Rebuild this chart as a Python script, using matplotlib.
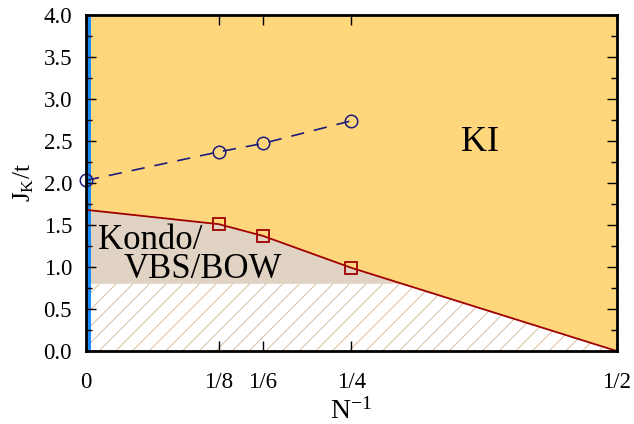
import numpy as np
import matplotlib.pyplot as plt
from matplotlib.ticker import MultipleLocator

plt.rcParams['font.family'] = 'Liberation Serif'
plt.rcParams['mathtext.fontset'] = 'custom'
plt.rcParams['mathtext.rm'] = 'Liberation Serif'
plt.rcParams['mathtext.it'] = 'Liberation Serif:italic'
plt.rcParams['hatch.linewidth'] = 0.6

# KI transition (circles, dashed)
ki_x = [0, 1/8, 1/6, 1/4]
ki_y = [2.03, 2.37, 2.47, 2.74]

# Kondo/VBS boundary (squares)
sq_x = [1/8, 1/6, 1/4]
sq_y = [1.51, 1.37, 0.99]

# full boundary line
bd_x = [0, 1/8, 1/6, 1/4, 1/2]
bd_y = [1.68, 1.51, 1.37, 0.99, 0.0]

hatch_top = 0.8
xticks = [0, 1/8, 1/6, 1/4, 1/2]
xticklabels = ['0', '1/8', '1/6', '1/4', '1/2']

fig = plt.figure(figsize=(6.34, 4.24), dpi=100)
ax = fig.add_axes([0.1356, 0.172, 0.8374, 0.793])

xs = np.linspace(0, 0.5, 1001)
ys = np.interp(xs, bd_x, bd_y)

ax.fill_between(xs, ys, 4.0, color='#fed67c', lw=0, zorder=0)
ax.fill_between(xs, hatch_top, ys, where=ys > hatch_top, color='#e0d3c3', lw=0, zorder=0)
ax.fill_between(xs, 0, np.minimum(ys, hatch_top), facecolor='white', edgecolor='#d4b290',
                hatch='//', lw=0, zorder=0)
ax.axvspan(0, 0.0048, color='#1a8cff', lw=0, zorder=1)

ax.plot(bd_x, bd_y, color='#a00000', lw=1.3, zorder=2)
ax.plot(sq_x, sq_y, ls='none', marker='s', ms=8, mfc='none', mec='#a00000', mew=1.3, zorder=3)
ax.plot(ki_x, ki_y, color='#1c1c7c', lw=1.2, ls=(0, (8, 6)), marker='o', ms=9,
        mfc='none', mec='#1c1c7c', mew=1.1, zorder=3, clip_on=False)

ax.text(0.3536, 2.48, 'KI', fontsize=26, ha='left', va='center')
ax.text(0.011, 1.32, 'Kondo/', fontsize=25, ha='left', va='center')
ax.text(0.035, 0.97, 'VBS/BOW', fontsize=25, ha='left', va='center')

ax.set_xlim(0, 0.5)
ax.set_ylim(0, 4.0)
ax.set_xticks(xticks)
ax.set_xticklabels(xticklabels)
ax.yaxis.set_major_locator(MultipleLocator(0.5))
ax.yaxis.set_minor_locator(MultipleLocator(0.25))
ax.yaxis.set_major_formatter(plt.FormatStrFormatter('%.1f'))
ax.tick_params(which='both', direction='in', top=True, right=True, labelsize=16.5)
ax.tick_params(which='major', length=7, width=1)
ax.tick_params(which='minor', length=4, width=1)
ax.tick_params(axis='x', pad=15)
ax.tick_params(axis='y', pad=10)
for s in ax.spines.values():
    s.set_linewidth(2)
    s.set_zorder(5)

ax.set_xlabel('N$^{-1}$', fontsize=20)
ax.set_ylabel('J$_\\mathrm{K}$/t', fontsize=18)
ax.xaxis.set_label_coords(0.5, -0.14)
ax.yaxis.set_label_coords(-0.095, 0.5)

fig.savefig('out.png', dpi=100)
